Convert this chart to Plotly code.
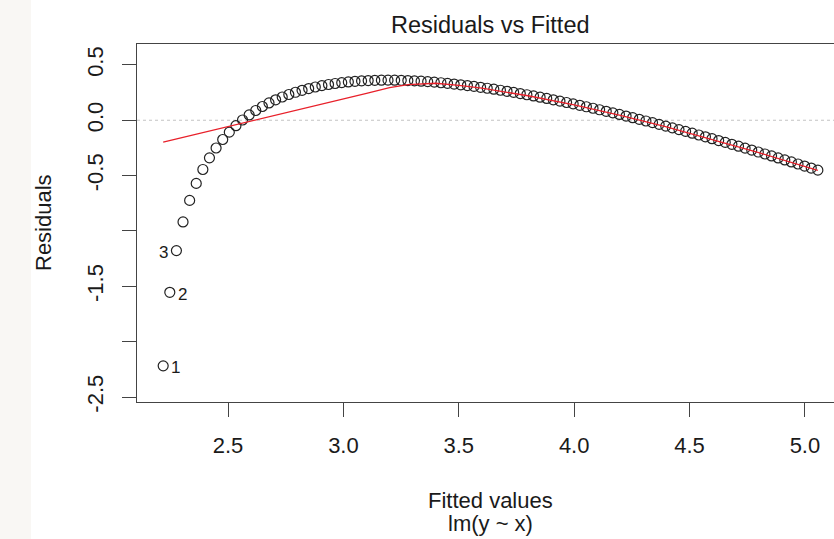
import plotly.graph_objects as go

# ---- data (lm(y ~ x) diagnostics) ----
fitted = [2.2188, 2.2475, 2.2762, 2.3048, 2.3335, 2.3621, 2.3908, 2.4194, 2.4481, 2.4768,
          2.5054, 2.5341, 2.5627, 2.5914, 2.6200, 2.6487, 2.6774, 2.7060, 2.7347, 2.7633,
          2.7920, 2.8207, 2.8493, 2.8780, 2.9066, 2.9353, 2.9639, 2.9926, 3.0213, 3.0499,
          3.0786, 3.1072, 3.1359, 3.1645, 3.1932, 3.2219, 3.2505, 3.2792, 3.3078, 3.3365,
          3.3651, 3.3938, 3.4225, 3.4511, 3.4798, 3.5084, 3.5371, 3.5658, 3.5944, 3.6231,
          3.6517, 3.6804, 3.7090, 3.7377, 3.7664, 3.7950, 3.8237, 3.8523, 3.8810, 3.9096,
          3.9383, 3.9670, 3.9956, 4.0243, 4.0529, 4.0816, 4.1102, 4.1389, 4.1676, 4.1962,
          4.2249, 4.2535, 4.2822, 4.3109, 4.3395, 4.3682, 4.3968, 4.4255, 4.4541, 4.4828,
          4.5115, 4.5401, 4.5688, 4.5974, 4.6261, 4.6547, 4.6834, 4.7121, 4.7407, 4.7694,
          4.7980, 4.8267, 4.8553, 4.8840, 4.9127, 4.9413, 4.9700, 4.9986, 5.0273, 5.0560]
residuals = [-2.2188, -1.5544, -1.1775, -0.9185, -0.7240, -0.5704, -0.4449, -0.3400, -0.2509, -0.1742,
             -0.1075, -0.0492, 0.0022, 0.0477, 0.0880, 0.1239, 0.1559, 0.1844, 0.2098, 0.2324,
             0.2525, 0.2704, 0.2862, 0.3001, 0.3123, 0.3228, 0.3319, 0.3396, 0.3460, 0.3513,
             0.3554, 0.3585, 0.3606, 0.3618, 0.3622, 0.3617, 0.3604, 0.3584, 0.3557, 0.3524,
             0.3484, 0.3439, 0.3387, 0.3331, 0.3269, 0.3202, 0.3131, 0.3055, 0.2974, 0.2890,
             0.2801, 0.2709, 0.2613, 0.2513, 0.2410, 0.2303, 0.2194, 0.2081, 0.1966, 0.1847,
             0.1726, 0.1602, 0.1475, 0.1346, 0.1215, 0.1081, 0.0944, 0.0806, 0.0665, 0.0523,
             0.0378, 0.0231, 0.0083, -0.0068, -0.0220, -0.0374, -0.0530, -0.0688, -0.0847, -0.1008,
             -0.1170, -0.1334, -0.1499, -0.1666, -0.1834, -0.2004, -0.2175, -0.2347, -0.2521, -0.2696,
             -0.2872, -0.3049, -0.3228, -0.3407, -0.3588, -0.3770, -0.3953, -0.4137, -0.4322, -0.4508]
point_labels = ["1", "2", "3"]

smooth_x = [2.2188, 2.5, 2.75, 3.0, 3.1, 3.2, 3.28, 3.4, 3.5, 3.6, 3.8, 4.0, 4.2, 4.4, 4.6, 4.8, 5.056]
smooth_y = [-0.198, -0.058, 0.066, 0.188, 0.242, 0.295, 0.322, 0.334, 0.315, 0.289, 0.221,
            0.139, 0.044, -0.060, -0.173, -0.293, -0.453]

x_ticks = [2.5, 3.0, 3.5, 4.0, 4.5, 5.0]
x_tick_text = ["2.5", "3.0", "3.5", "4.0", "4.5", "5.0"]
y_ticks = [-2.5, -2.0, -1.5, -1.0, -0.5, 0.0, 0.5]
y_tick_text = ["-2.5", "", "-1.5", "", "-0.5", "0.0", "0.5"]

# ---- layout constants (pixels) ----
W, H = 834, 539
L, R_, T, B = 137, 0, 44, 137
PW, PH = W - L - R_, H - T - B
XR = [2.10536, 5.126]
YR = [-2.5451, 0.6885]
FONT = "Liberation Sans, Arial, Helvetica, sans-serif"
TXT = "#1a1a1a"

def py(p):  # pixel y -> paper y
    return (H - B - p) / PH

def px(p):  # pixel x -> paper x
    return (p - L) / PW

fig = go.Figure()

fig.add_trace(go.Scatter(
    x=XR, y=[0, 0], mode="lines",
    line=dict(color="#c4c4c4", width=1.2, dash="dot"),
    hoverinfo="skip", showlegend=False))

fig.add_trace(go.Scatter(
    x=fitted, y=residuals, mode="markers",
    marker=dict(symbol="circle-open", size=10, color="#222222", line=dict(width=1.2)),
    showlegend=False))

fig.add_trace(go.Scatter(
    x=smooth_x, y=smooth_y, mode="lines",
    line=dict(color="#e8202a", width=1.3),
    showlegend=False))

annotations = []
annotations.append(dict(x=fitted[0], y=residuals[0], text=point_labels[0], xref="x", yref="y",
                        showarrow=False, xanchor="left", xshift=6, yshift=-2,
                        font=dict(family=FONT, size=17, color=TXT)))
annotations.append(dict(x=fitted[1], y=residuals[1], text=point_labels[1], xref="x", yref="y",
                        showarrow=False, xanchor="left", xshift=6, yshift=-2,
                        font=dict(family=FONT, size=17, color=TXT)))
annotations.append(dict(x=fitted[2], y=residuals[2], text=point_labels[2], xref="x", yref="y",
                        showarrow=False, xanchor="right", xshift=-6, yshift=-2,
                        font=dict(family=FONT, size=17, color=TXT)))

xmid = (2.10536 + 5.16943) / 2
annotations.append(dict(x=xmid, y=py(25), xref="x", yref="paper", text="Residuals vs Fitted",
                        showarrow=False, xanchor="center", yanchor="middle",
                        font=dict(family=FONT, size=23.5, color=TXT)))
annotations.append(dict(x=xmid, y=py(500), xref="x", yref="paper", text="Fitted values",
                        showarrow=False, xanchor="center", yanchor="middle",
                        font=dict(family=FONT, size=22, color=TXT)))
annotations.append(dict(x=xmid, y=py(523), xref="x", yref="paper", text="lm(y ~ x)",
                        showarrow=False, xanchor="center", yanchor="middle",
                        font=dict(family=FONT, size=22, color=TXT)))
annotations.append(dict(x=px(43), y=py(223), xref="paper", yref="paper", text="Residuals",
                        showarrow=False, xanchor="center", yanchor="middle", textangle=-90,
                        font=dict(family=FONT, size=22, color=TXT)))

shapes = [
    dict(type="rect", xref="paper", yref="paper", x0=px(0), x1=px(31), y0=py(H), y1=py(0),
         fillcolor="#f9f7f4", line=dict(width=0), layer="below"),
]

fig.update_layout(
    width=W, height=H,
    margin=dict(l=L, r=R_, t=T, b=B),
    paper_bgcolor="white", plot_bgcolor="white",
    font=dict(family=FONT, size=22, color=TXT),
    annotations=annotations, shapes=shapes,
    showlegend=False,
)
fig.update_xaxes(
    range=XR, tickmode="array", tickvals=x_ticks, ticktext=x_tick_text,
    showgrid=False, zeroline=False, showline=True, linecolor="#444444", linewidth=1.3,
    mirror=True, ticks="outside", ticklen=14, tickwidth=1.2, tickcolor="#444444",
    ticklabelstandoff=9,
    tickfont=dict(family=FONT, size=22, color=TXT),
)
fig.update_yaxes(
    range=YR, tickmode="array", tickvals=y_ticks, ticktext=y_tick_text,
    showgrid=False, zeroline=False, showline=True, linecolor="#444444", linewidth=1.3,
    mirror=False, ticks="outside", ticklen=14, tickwidth=1.2, tickcolor="#444444",
    ticklabelstandoff=10,
    tickangle=-90, tickfont=dict(family=FONT, size=22, color=TXT),
)

fig.write_html(
    "out.html",
    config={"displayModeBar": False},
    post_script="document.body.style.margin='0';document.body.style.padding='0';"
                "document.body.style.overflow='hidden';",
)
